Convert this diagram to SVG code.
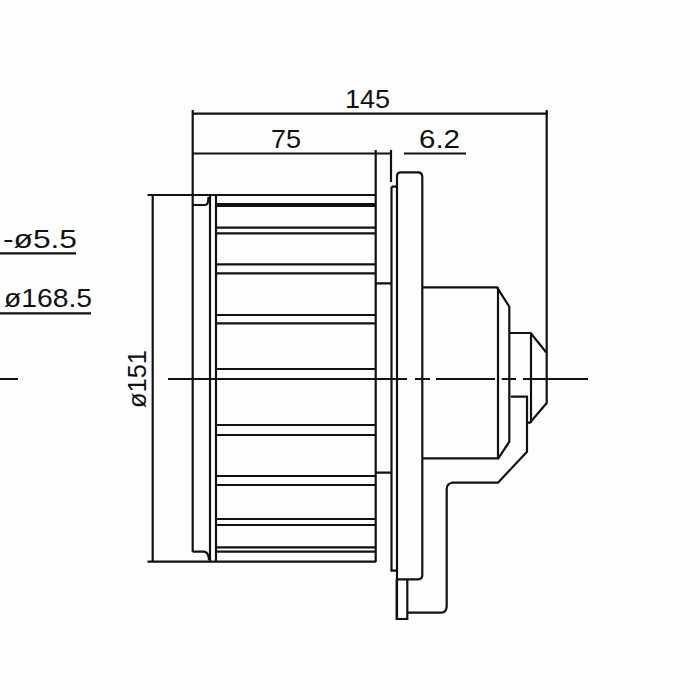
<svg xmlns="http://www.w3.org/2000/svg" width="700" height="700" viewBox="0 0 700 700">
<style>
.l{fill:none;stroke:#111;stroke-width:2.2;stroke-linejoin:miter}
.c{fill:none;stroke:#111;stroke-width:1.8}
.h{fill:none;stroke:#111;stroke-width:4}
text{font-family:"Liberation Sans",Arial,sans-serif;font-size:26px;fill:#111}
</style>
<rect width="700" height="700" fill="#fefefe"/>
<g id="dimensions" class="l">
<path class="l" d="M192.700 110V552M192.700 113.700H548M192.700 153.500H391M404 153.500H466M375.700 150V562M391 150V182"/>
<path class="l" d="M546.700 110V353"/>
<path class="l" d="M147.500 195H375.700M147.500 561.700H376M152.700 195V561.700"/>
<path class="l" d="M0 253.300H76M0 313.300H91"/>
</g>
<g id="rotor">
<path class="l" d="M192.700 205H205Q208.500 205 208.500 197M192.700 551.700H204Q208.500 552 209 560"/>
<path class="l" d="M210 195V561.700M216 195V561.700"/>
<path class="h" d="M216 205H375"/>
<path class="l" d="M216 227.700H375M216 233.300H375M216 264.300H375M216 273.300H375M216 315H375M216 323.300H375M216 369H375M216 425H375M216 435H375M216 476H375M216 485H375M216 519H375M216 525H375M216 547.300H375M216 551.700H375"/>
<path class="l" d="M375.700 283.300H391M375.700 472.700H391"/>
</g>
<g id="flange">
<path class="l" d="M391.500 186.700H397M391.500 186.700V570.700H397"/>
<path class="l" d="M397 619V176Q397 172.300 401 172.300H418Q422.300 172.300 422.300 177V575Q422.300 579.300 418 579.300H397"/>
<path class="l" d="M396.700 579.300V619H407.300V579.300"/>
</g>
<g id="hub">
<path class="l" d="M422.300 287.300H497L509.300 306.700V441.700L498.300 458.300H422.300"/>
<path class="l" d="M498 287.300V458.300"/>
<path class="l" d="M509.300 333H530.700L546.700 353V403L530 422.700H527"/>
<path class="l" d="M531 333V423"/>
<path class="l" d="M510.700 396.700H527V451.700L498 482.700H452Q446.700 484 446.700 489V606Q446.700 612.700 441 612.700H407.300"/>
</g>
<g id="centerline" class="c">
<path class="c" d="M0 379H18M168 379H407M415 379H430M436 379H495M501.700 379H516M523 379H588"/>
</g>
<g id="labels">
<text x="345" y="108" textLength="45" lengthAdjust="spacingAndGlyphs">145</text>
<text x="271" y="148" textLength="30" lengthAdjust="spacingAndGlyphs">75</text>
<text x="419" y="148" textLength="41" lengthAdjust="spacingAndGlyphs">6.2</text>
<text x="3" y="247.500" textLength="74" lengthAdjust="spacingAndGlyphs">-ø5.5</text>
<text x="4" y="306.500" textLength="88" lengthAdjust="spacingAndGlyphs">ø168.5</text>
<text transform="translate(146 408) rotate(-90)" textLength="58" lengthAdjust="spacingAndGlyphs">ø151</text>
</g>
</svg>
